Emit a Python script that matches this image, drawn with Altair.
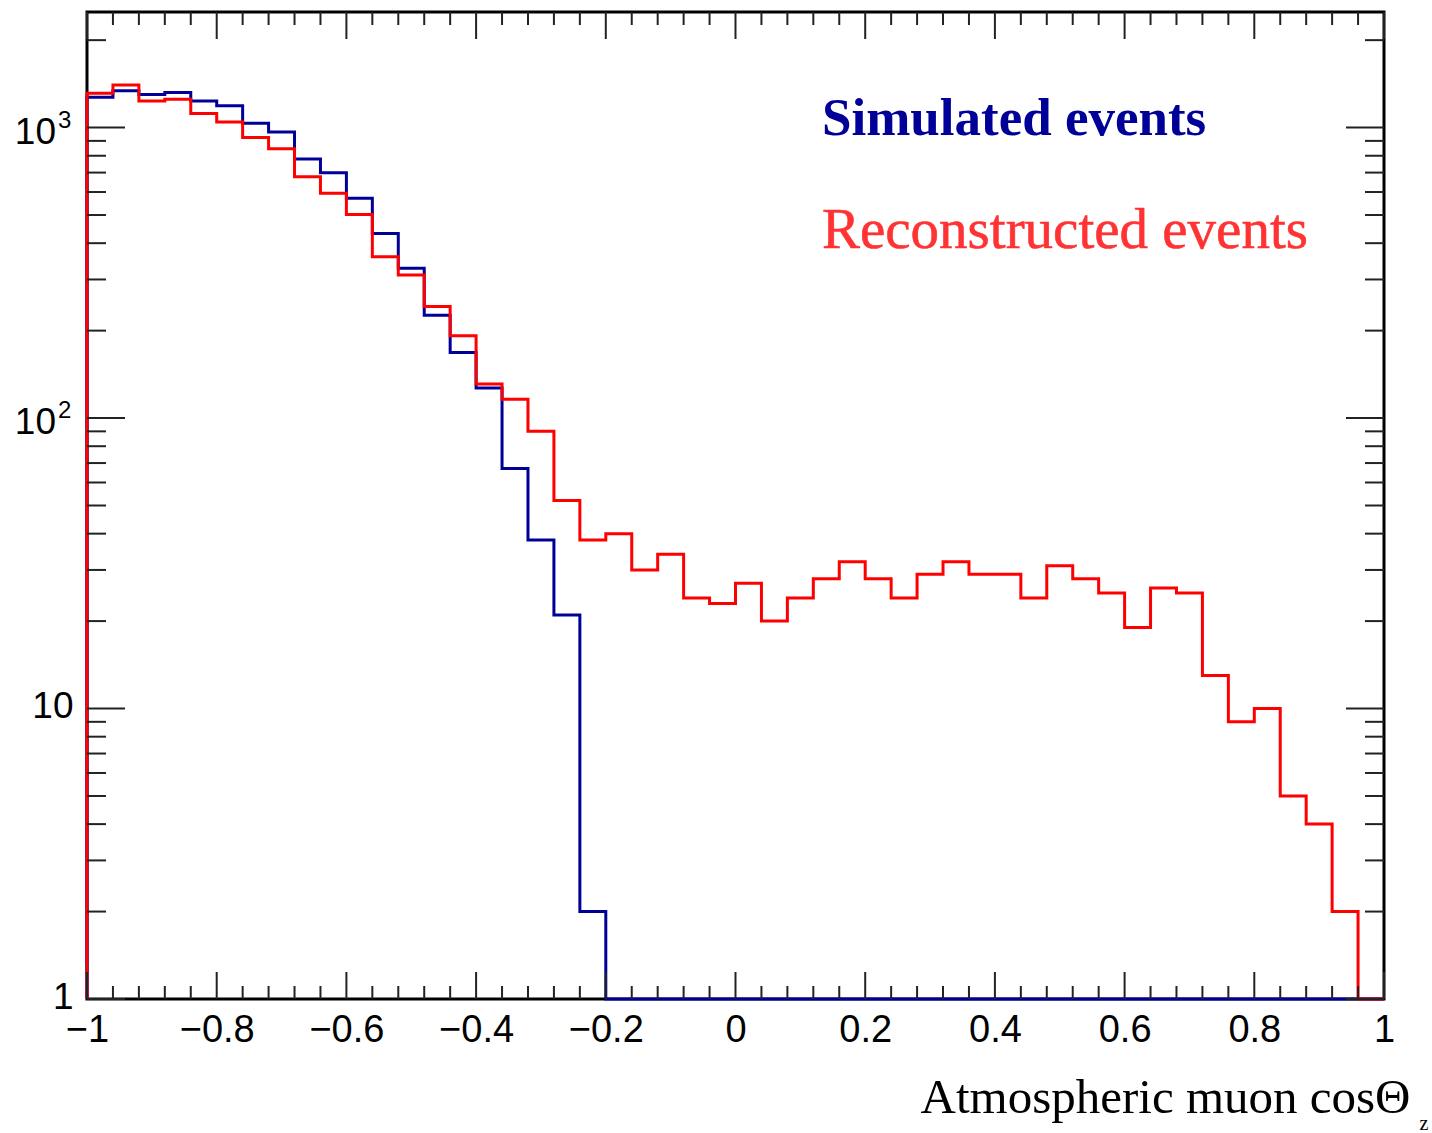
import altair as alt
import numpy as np
import pandas as pd

# ---- data (50 bins from -1 to 1) ----
simulated = [1271, 1339, 1301, 1322, 1234, 1189, 1034, 965, 779, 699,
             571, 432, 328, 226, 168, 127, 67, 38, 21, 2,
             0, 0, 0, 0, 0, 0, 0, 0, 0, 0,
             0, 0, 0, 0, 0, 0, 0, 0, 0, 0,
             0, 0, 0, 0, 0, 0, 0, 0, 0, 0]
reconstructed = [1312, 1401, 1234, 1251, 1119, 1045, 925, 845, 677, 594,
                 502, 359, 311, 242, 192, 131, 116, 90, 52, 38,
                 40, 30, 34, 24, 23, 27, 20, 24, 28, 32,
                 28, 24, 29, 32, 29, 29, 24, 31, 28, 25,
                 19, 26, 25, 13, 9, 10, 5, 4, 2, 0]
series_names = ["Simulated events", "Reconstructed events"]
series_colors = ["#000099", "#ff0000"]
text_colors = ["#000099", "#ff3333"]

x_major = [-1, -0.8, -0.6, -0.4, -0.2, 0, 0.2, 0.4, 0.6, 0.8, 1]
y_major = [1, 10, 100, 1000]
y_plain_labels = {1: "1", 10: "10"}           # drawn by the axis
y_power_values = [100, 1000]                   # drawn as 10 + superscript
y_power_base = ["10", "10"]
y_power_exp = ["2", "3"]
y_minor = [2, 3, 4, 5, 6, 7, 8, 9, 20, 30, 40, 50, 60, 70, 80, 90,
           200, 300, 400, 500, 600, 700, 800, 900, 2000]
x_title = "Atmospheric muon cosΘ"
x_title_sub = "z"

bin_edges = np.round(np.linspace(-1, 1, 51), 2)
x_minor = [float(e) for e in bin_edges if round(e * 5, 6) != round(e * 5)]

W, H = 1297, 987


def steps(counts, name):
    pts = [(-1.0, 0)] + [(float(bin_edges[i]), counts[i]) for i in range(50)] + [(1.0, counts[-1])]
    return pd.DataFrame({"x": [p[0] for p in pts], "count": [p[1] for p in pts],
                         "series": name, "order": list(range(len(pts)))})


xscale = alt.Scale(domain=[-1, 1], nice=False, zero=False)
yscale = alt.Scale(type="log", domain=[1, 2500], nice=False)

y_expr = " : ".join(
    [f"datum.value == {v} ? '{l}'" for v, l in y_plain_labels.items()]) + " : ''"

xaxis = alt.Axis(values=x_major, format=".1~f", grid=False, ticks=False, domain=False,
                 labelFont="Liberation Sans", labelFontSize=38, labelColor="black",
                 labelPadding=12, labelBaseline="top", labelFlush=False, labelOverlap=False,
                 title=x_title, titleFont="Liberation Serif", titleFontSize=49,
                 titleFontWeight="normal", titleColor="black", titleAlign="right",
                 titleX=1323, titleY=113, titleBaseline="alphabetic")
yaxis = alt.Axis(values=[1, 10], labelExpr=y_expr, grid=False, ticks=False, domain=False,
                 labelFont="Liberation Sans", labelFontSize=37, labelColor="black",
                 labelPadding=14, labelBaseline="middle", labelOffset=-2,
                 labelFlush=False, labelOverlap=False, title=None)


def X(field):
    return alt.X(field, scale=xscale, axis=xaxis)


def Y(field):
    return alt.Y(field, scale=yscale, axis=yaxis)


def hist_layer(counts, name, color):
    return alt.Chart(steps(counts, name)).transform_calculate(
        v="max(datum.count, 1)"
    ).mark_line(interpolate="step-after", strokeWidth=3, color=color).encode(
        x=X("x:Q"), y=Y("v:Q"), order="order:Q",
    )


tick_color = "#222222"


def xticks(vals, length):
    d = pd.DataFrame({"x": vals})
    bottom = alt.Chart(d).mark_rule(color=tick_color, strokeWidth=2).encode(
        x=X("x:Q"), y=alt.value(H), y2=alt.value(H - length))
    top = alt.Chart(d).mark_rule(color=tick_color, strokeWidth=2).encode(
        x=X("x:Q"), y=alt.value(0), y2=alt.value(length))
    return [bottom, top]


def yticks(vals, length):
    d = pd.DataFrame({"y": vals})
    left = alt.Chart(d).mark_rule(color=tick_color, strokeWidth=2).encode(
        y=Y("y:Q"), x=alt.value(0), x2=alt.value(length))
    right = alt.Chart(d).mark_rule(color=tick_color, strokeWidth=2).encode(
        y=Y("y:Q"), x=alt.value(W), x2=alt.value(W - length))
    return [left, right]


tick_layers = (xticks(x_major, 27) + xticks(x_minor, 13)
               + yticks(y_major, 38) + yticks(y_minor, 19))

pow_df = pd.DataFrame({"y": y_power_values, "base": y_power_base, "exp": y_power_exp})
pow_base = alt.Chart(pow_df).mark_text(
    font="Liberation Sans", fontSize=37, color="black", align="right",
    baseline="alphabetic", dy=16).encode(
    y=Y("y:Q"), x=alt.value(-31), text="base:N")
pow_exp = alt.Chart(pow_df).mark_text(
    font="Liberation Sans", fontSize=24, color="black", align="left",
    baseline="alphabetic", dy=0).encode(
    y=Y("y:Q"), x=alt.value(-29), text="exp:N")

legend_sim = alt.Chart(pd.DataFrame({"t": [series_names[0]]})).mark_text(
    font="Liberation Serif", fontSize=53, fontWeight="bold", color=text_colors[0],
    align="left", baseline="alphabetic").encode(
    text="t:N", x=alt.value(735), y=alt.value(123))
legend_rec = alt.Chart(pd.DataFrame({"t": [series_names[1]]})).mark_text(
    font="Liberation Serif", fontSize=57, fontWeight="normal", color=text_colors[1],
    align="left", baseline="alphabetic", stroke=text_colors[1], strokeWidth=0.6).encode(
    text="t:N", x=alt.value(735), y=alt.value(236))
sub_z = alt.Chart(pd.DataFrame({"t": [x_title_sub]})).mark_text(
    font="Liberation Serif", fontSize=20, color="black",
    align="center", baseline="alphabetic").encode(
    text="t:N", x=alt.value(1337), y=alt.value(1118))

chart = alt.layer(
    hist_layer(simulated, series_names[0], series_colors[0]),
    hist_layer(reconstructed, series_names[1], series_colors[1]),
    *tick_layers,
    pow_base, pow_exp,
    legend_sim, legend_rec, sub_z,
).properties(
    width=W, height=H,
    autosize=alt.AutoSizeParams(type="none"),
    padding={"left": 87, "top": 12, "right": 48, "bottom": 134},
    background="white",
).configure_view(stroke="black", strokeWidth=3)

chart.save("out.html", embed_options={"renderer": "svg", "actions": False})
